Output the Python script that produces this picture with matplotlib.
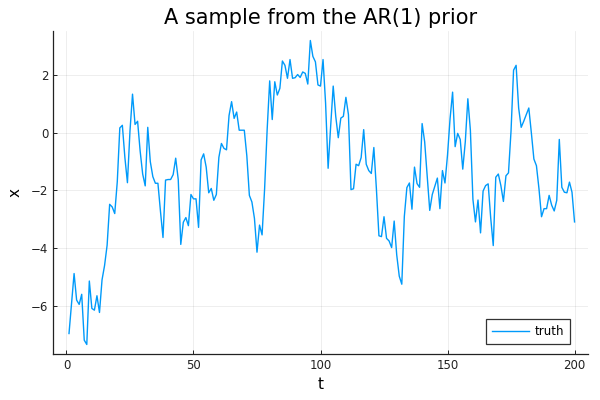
import matplotlib
matplotlib.use("Agg")
import matplotlib.pyplot as plt
import numpy as np

t = list(range(1, 201))
x = [
    -6.96, -5.9, -4.88, -5.8, -5.95, -5.6, -7.19, -7.34, -5.14, -6.09,
    -6.15, -5.65, -6.23, -5.1, -4.6, -3.9, -2.48, -2.57, -2.8, -1.7,
    0.17, 0.26, -0.86, -1.73, 0.06, 1.34, 0.29, 0.4, -0.63, -1.43,
    -1.84, 0.19, -1.0, -1.52, -1.75, -1.75, -2.72, -3.63, -1.64, -1.62,
    -1.62, -1.45, -0.88, -1.62, -3.87, -3.1, -2.94, -3.22, -2.14, -2.29,
    -2.29, -3.28, -0.94, -0.73, -1.19, -2.08, -1.93, -2.34, -2.14, -0.85,
    -0.37, -0.54, -0.59, 0.6, 1.08, 0.5, 0.72, 0.09, 0.09, 0.09,
    -0.8, -2.17, -2.4, -2.97, -4.14, -3.2, -3.54, -1.94, 0.11, 1.8,
    0.46, 1.77, 1.31, 1.54, 2.49, 2.34, 1.89, 2.54, 1.89, 1.91,
    2.02, 1.92, 2.11, 2.06, 1.69, 3.2, 2.65, 2.46, 1.66, 1.62,
    2.54, 1.03, -1.23, 0.23, 1.62, 0.57, -0.17, 0.51, 0.57, 1.23,
    0.63, -1.97, -1.94, -1.09, -1.14, -0.86, 0.11, -1.09, -1.31, -1.41,
    -0.51, -1.94, -3.57, -3.6, -2.91, -3.66, -3.75, -3.98, -3.06, -4.23,
    -4.97, -5.25, -2.9, -1.9, -1.74, -2.65, -1.19, -1.76, -1.89, 0.32,
    -0.31, -1.51, -2.69, -2.14, -1.85, -1.57, -2.63, -1.31, -1.74, -0.77,
    0.49, 1.41, -0.48, -0.02, -0.23, -1.26, -0.31, 1.18, 0.09, -2.31,
    -3.09, -2.33, -3.47, -2.02, -1.83, -1.77, -2.95, -3.91, -1.54, -1.43,
    -1.83, -2.38, -1.49, -1.39, 0.06, 2.17, 2.34, 0.86, 0.19, 0.4,
    0.63, 0.86, 0.0, -0.91, -1.14, -1.94, -2.91, -2.63, -2.63, -2.17,
    -2.51, -2.71, -2.34, -0.23, -1.89, -2.06, -2.08, -1.71, -2.06, -3.09,
]
xticks = [0, 50, 100, 150, 200]
yticks = [-6, -4, -2, 0, 2]
ytick_labels = ["\u22126", "\u22124", "\u22122", "0", "2"]

fig = plt.figure(figsize=(6, 4), dpi=100)
ax = fig.add_axes([53/600, 1 - 354/400, (588 - 53)/600, (354 - 31)/400])
ax.plot(t, x, color="#009AFA", linewidth=1.0, label="truth")

ax.set_xlim(-5.3, 205.3)
ax.set_ylim(-7.67, 3.53)
ax.set_xticks(xticks)
ax.set_yticks(yticks)
ax.set_yticklabels(ytick_labels)
ax.grid(True, color="#000000", alpha=0.08, linewidth=0.6)
ax.set_axisbelow(True)
for s in ["top", "right"]:
    ax.spines[s].set_visible(False)
for s in ["left", "bottom"]:
    ax.spines[s].set_linewidth(0.9)
    ax.spines[s].set_color("#222222")
ax.tick_params(direction="in", length=3, width=0.7, labelsize=8.5, colors="#222222",
               labelcolor="#222222")
ax.set_xlabel("t", fontsize=11)
ax.set_ylabel("x", fontsize=11, labelpad=6)
ax.set_title("A sample from the AR(1) prior", fontsize=15, pad=5)
leg = ax.legend(loc="lower right", bbox_to_anchor=((570 - 53) / 535, (354 - 344) / 323),
                borderaxespad=0, fontsize=8.5, fancybox=False, framealpha=1,
                edgecolor="#333333", borderpad=0.5, handlelength=3.1,
                handletextpad=0.5)
leg.get_frame().set_linewidth(0.9)
fig.savefig("out.png", dpi=100)
